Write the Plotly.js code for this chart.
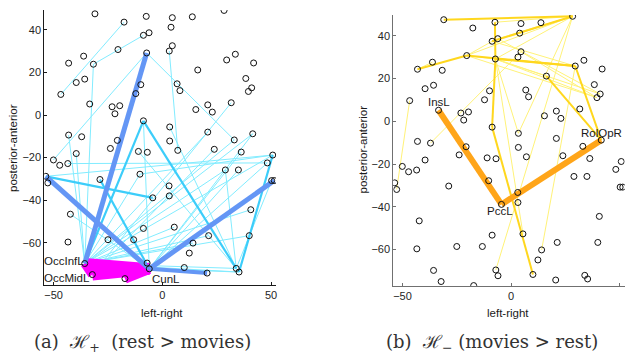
<!DOCTYPE html>
<html>
<head>
<meta charset="utf-8">
<script src="https://cdn.plot.ly/plotly-3.0.1.min.js"></script>
<style>html,body{margin:0;padding:0;background:#fff;}#chart{width:625px;height:361px;}</style>
</head>
<body>
<div id="chart"></div>
<script>
// Node coordinates (left-right, posterior-anterior), shared by both panels (1-based ids in edge lists)
const nodeX = [-31.0,-17.6,-7.4,4.6,13.8,28.4,4.0,-6.1,-8.7,4.6,
  3.2,-20.4,-7.2,-36.2,-43.1,-31.7,29.6,33.6,42.0,16.3,
  38.4,-39.6,-35.7,41.1,39.6,-46.7,-9.9,-12.2,6.8,8.1,
  -33.4,-23.1,-19.6,-21.8,15.4,20.9,23.0,31.7,-8.7,-43.1,
  -37.1,3.4,20.9,41.6,-20.7,3.4,33.1,-23.9,-11.0,-6.9,
  7.1,23.9,36.3,-39.6,-50.1,-47.2,-43.5,50.8,48.3,-53.6,
  -52.7,-10.3,-28.7,29.0,35.0,3.1,-4.4,3.2,50.3,51.5,
  -42.3,40.7,-8.7,5.5,-43.4,-25.0,-13.2,21.3,40.0,14.1,
  12.4,-7.0,10.1,20.6,34.0,35.3,-17.2,-35.7,-32.2,-6.0];
const nodeY = [47.6,43.7,46.4,45.8,46.2,49.2,41.3,38.7,37.5,32.6,
  30.1,30.8,29.2,27.7,24.4,23.9,25.9,28.6,24.5,21.2,
  17.2,15.3,16.9,12.8,11.1,9.7,14.3,10.1,14.7,11.5,
  5.2,3.9,4.4,0.6,2.6,4.8,1.4,5.8,-2.7,-9.4,
  -10.2,-5.6,-8.0,-8.8,-11.9,-12.2,-11.7,-15.7,-17.1,-17.5,
  -16.6,-16.1,-17.4,-18.1,-21.1,-23.6,-22.8,-18.8,-22.5,-28.8,
  -31.9,-27.8,-30.3,-25.8,-25.8,-33.3,-38.9,-38.0,-30.8,-30.8,
  -46.6,-44.5,-53.3,-52.7,-59.7,-58.6,-58.6,-56.7,-56.7,-60.2,
  -64.9,-69.6,-71.7,-74.3,-72.1,-73.8,-76.9,-69.8,-75.0,-72.3];

// Panel (a) H+ edges, grouped by strength
const edgesA_thin = [[26,2],[16,9],[16,88],[13,55],[13,47],[40,88],[38,89],[43,88],[44,88],[44,90],
  [60,58],[62,58],[57,59],[58,88],[59,90],[53,90],[64,85],[88,85],[88,86],[90,86],[88,79],[88,78],
  [88,72],[88,64],[90,65],[69,85],[42,85],[54,88],[62,88],[71,90],[74,88],[80,88],[39,90],
  [49,86],[47,88],[52,89],[11,51]];
const edgesA_med = [[88,39],[39,85],[63,90],[60,67],[58,86]];
const edgesA_thick = [[88,13],[60,90],[90,70],[90,84]];
const edgesA_top = [[88,90],[89,90],[87,90],[88,89]];

// Panel (b) H- edges, grouped by strength
const edgesB_thin = [[6,12],[6,13],[6,8],[6,7],[3,6],[12,13],[12,9],[12,25],[13,25],[13,24],
  [26,61],[41,10],[13,42],[6,42],[17,80],[82,6],[9,17],[10,25],[15,14],[13,74],[8,24],[13,20]];
const edgesB_med = [[1,6],[6,9],[3,13],[13,39],[39,83],[12,17],[13,17],[17,44],[20,44],[15,12]];
const edgesB_thick = [[31,67],[67,44]];

// Node labels
const labelsA = [[88,'OccInfL'],[89,'OccMidL'],[90,'CunL']];
const labelsB = [[31,'InsL'],[44,'RolOpR'],[67,'PccL']];

const axisTitleX = 'left-right';
const axisTitleY = 'posterior-anterior';
const captionA = '(a)  \u210B<sub>+</sub>  (rest > movies)';
const captionB = '(b)  \u210B<sub>\u2212</sub> (movies > rest)';

function edgeTrace(edges, color, width, xa, ya) {
  const x = [], y = [];
  edges.forEach(([i, j]) => {
    x.push(nodeX[i-1], nodeX[j-1], null);
    y.push(nodeY[i-1], nodeY[j-1], null);
  });
  return {x, y, mode: 'lines', type: 'scatter', xaxis: xa, yaxis: ya, hoverinfo: 'skip',
    line: {color, width}, connectgaps: false};
}
function nodeTrace(xa, ya) {
  return {x: nodeX, y: nodeY, mode: 'markers', type: 'scatter', xaxis: xa, yaxis: ya,
    marker: {symbol: 'circle-open', size: 6, color: '#111', line: {width: 1, color: '#111'}}, hoverinfo: 'skip'};
}

const data = [
  edgeTrace(edgesA_thin, 'rgb(130,236,255)', 1, 'x', 'y'),
  edgeTrace(edgesA_med, 'rgb(60,205,250)', 2.2, 'x', 'y'),
  edgeTrace([edgesA_top[0]], 'rgb(255,0,255)', 11, 'x', 'y'),
  edgeTrace([edgesA_top[1]], 'rgb(255,0,255)', 12, 'x', 'y'),
  edgeTrace([edgesA_top[2]], 'rgb(255,0,255)', 10, 'x', 'y'),
  edgeTrace([edgesA_top[3]], 'rgb(255,0,255)', 9, 'x', 'y'),
  edgeTrace(edgesA_thick.slice(0,3), 'rgb(100,150,245)', 5, 'x', 'y'),
  edgeTrace(edgesA_thick.slice(3), 'rgb(100,150,245)', 4, 'x', 'y'),
  nodeTrace('x', 'y'),
  edgeTrace(edgesB_thin, 'rgb(255,242,120)', 1, 'x2', 'y2'),
  edgeTrace(edgesB_med, 'rgb(255,215,30)', 2, 'x2', 'y2'),
  edgeTrace(edgesB_thick, 'rgb(255,165,25)', 6, 'x2', 'y2'),
  nodeTrace('x2', 'y2')
];

const tickFont = {family: 'Liberation Sans, Arial, sans-serif', size: 11, color: '#262626'};
function xax(domain, range, anchor, lc) {
  return {domain, range, anchor, showline: true, linecolor: lc, linewidth: 1, mirror: false,
    ticks: 'inside', ticklen: 3, tickcolor: lc, tickvals: [-50, 0, 50], showgrid: false, zeroline: false,
    tickfont: tickFont, fixedrange: true};
}
function yax(domain, range, anchor, lc) {
  return {domain, range, anchor, showline: true, linecolor: lc, linewidth: 1, mirror: false,
    ticks: 'inside', ticklen: 3, tickcolor: lc, tickvals: [-60, -40, -20, 0, 20, 40], showgrid: false, zeroline: false,
    tickfont: tickFont, fixedrange: true};
}

const labFont = {family: 'Liberation Sans, Arial, sans-serif', size: 11.5, color: '#1a1a1a'};
const annotations = [];
const styleA = {88: {xanchor: 'right', yanchor: 'middle', yshift: 3, xshift: 1},
                89: {xanchor: 'right', yanchor: 'middle', yshift: -3, xshift: 0},
                90: {xanchor: 'left', yanchor: 'top', yshift: -2, xshift: 1}};
const styleB = {31: {xanchor: 'center', yanchor: 'bottom', yshift: 0, xshift: 0},
                44: {xanchor: 'center', yanchor: 'bottom', yshift: -1, xshift: 0},
                67: {xanchor: 'center', yanchor: 'top', yshift: 1, xshift: -1}};
labelsA.forEach(([n, t]) => annotations.push(Object.assign({x: nodeX[n-1], y: nodeY[n-1], xref: 'x', yref: 'y',
  text: t, showarrow: false, font: labFont}, styleA[n])));
labelsB.forEach(([n, t]) => annotations.push(Object.assign({x: nodeX[n-1], y: nodeY[n-1], xref: 'x2', yref: 'y2',
  text: t, showarrow: false, font: labFont}, styleB[n])));

const titleFont = {family: 'Liberation Sans, Arial, sans-serif', size: 11.5, color: '#1a1a1a'};
annotations.push({x: 162/625, y: 1 - 313/361, xref: 'paper', yref: 'paper', text: axisTitleX, showarrow: false, font: titleFont, xanchor: 'center', yanchor: 'middle'});
annotations.push({x: 508/625, y: 1 - 313/361, xref: 'paper', yref: 'paper', text: axisTitleX, showarrow: false, font: titleFont, xanchor: 'center', yanchor: 'middle'});
annotations.push({x: 13/625, y: 1 - 148/361, xref: 'paper', yref: 'paper', text: axisTitleY, showarrow: false, font: titleFont, xanchor: 'center', yanchor: 'middle', textangle: -90});
annotations.push({x: 362.5/625, y: 1 - 150/361, xref: 'paper', yref: 'paper', text: axisTitleY, showarrow: false, font: titleFont, xanchor: 'center', yanchor: 'middle', textangle: -90});
const capFont = {family: 'DejaVu Serif, Liberation Serif, serif', size: 18, color: '#333'};
annotations.push({x: 142/625, y: 1 - 343/361, xref: 'paper', yref: 'paper', text: captionA, showarrow: false, font: capFont, xanchor: 'center', yanchor: 'middle'});
annotations.push({x: 491.5/625, y: 1 - 343/361, xref: 'paper', yref: 'paper', text: captionB, showarrow: false, font: capFont, xanchor: 'center', yanchor: 'middle'});

const layout = {
  width: 625, height: 361, margin: {l: 0, r: 0, t: 0, b: 0},
  paper_bgcolor: '#fff', plot_bgcolor: 'rgba(0,0,0,0)', showlegend: false,
  xaxis: xax([44.3/625, 276/625], [-54.3, 52.3], 'y', '#1a1a1a'),
  yaxis: yax([(361-285)/361, (361-10)/361], [-79.9, 49.4], 'x', '#1a1a1a'),
  xaxis2: xax([393.3/625, 624.6/625], [-54.25, 52.35], 'y2', '#707070'),
  yaxis2: yax([(361-286)/361, (361-15)/361], [-77.1, 49.8], 'x2', '#707070'),
  annotations
};
Plotly.newPlot('chart', data, layout, {staticPlot: true, displayModeBar: false});
</script>
</body>
</html>
